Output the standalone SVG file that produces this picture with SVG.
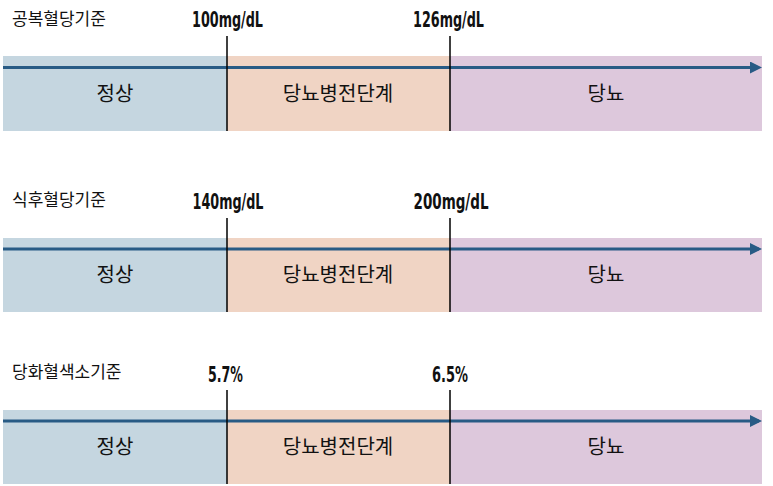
<svg xmlns="http://www.w3.org/2000/svg" width="773" height="486" viewBox="0 0 773 486">
<style>
.title{font-family:"Noto Sans CJK KR","Noto Sans",sans-serif;font-size:17px;fill:#111}
.band{font-family:"Noto Sans CJK KR","Noto Sans",sans-serif;font-size:20px;fill:#111;text-anchor:middle;dominant-baseline:central}
.val{font-family:"Liberation Sans Narrow","DejaVu Sans Condensed","Liberation Sans",sans-serif;font-weight:bold;font-size:21px;fill:#111;text-anchor:middle}
.normal{fill:#c5d6e0}
.pre{fill:#f0d4c4}
.dm{fill:#ddc8dc}
.axis{stroke:#285b85;stroke-width:3;fill:none;marker-end:url(#ah)}
.tick{stroke:#000;stroke-width:1.5}
</style>
<defs>
<marker id="ah" markerWidth="4" markerHeight="4" refX="3" refY="2" orient="auto" markerUnits="strokeWidth">
<path d="M0,0 L4,2 L0,4 Z" fill="#285b85"/>
</marker>
</defs>
<g id="row1">
<g id="row1-title"><text class="title" x="12" y="25">공복혈당기준</text></g>
<g id="row1-normal"><rect class="normal" x="3" y="56" width="224" height="75"/><text class="band" x="115" y="92">정상</text></g>
<g id="row1-pre"><rect class="pre" x="227" y="56" width="223" height="75"/><text class="band" x="338" y="92">당뇨병전단계</text></g>
<g id="row1-dm"><rect class="dm" x="450" y="56" width="312" height="75"/><text class="band" x="606" y="92">당뇨</text></g>
<g id="row1-t1"><text class="val" x="227.5" y="27" textLength="71" lengthAdjust="spacingAndGlyphs">100mg/dL</text></g>
<g id="row1-t2"><text class="val" x="448.5" y="27" textLength="71" lengthAdjust="spacingAndGlyphs">126mg/dL</text></g>
</g>
<g id="row2">
<g id="row2-title"><text class="title" x="12" y="206">식후혈당기준</text></g>
<g id="row2-normal"><rect class="normal" x="3" y="238" width="224" height="74"/><text class="band" x="115" y="273">정상</text></g>
<g id="row2-pre"><rect class="pre" x="227" y="238" width="223" height="74"/><text class="band" x="338" y="273">당뇨병전단계</text></g>
<g id="row2-dm"><rect class="dm" x="450" y="238" width="312" height="74"/><text class="band" x="606" y="273">당뇨</text></g>
<g id="row2-t1"><text class="val" x="228" y="209" textLength="71" lengthAdjust="spacingAndGlyphs">140mg/dL</text></g>
<g id="row2-t2"><text class="val" x="451" y="209" textLength="75" lengthAdjust="spacingAndGlyphs">200mg/dL</text></g>
</g>
<g id="row3">
<g id="row3-title"><text class="title" x="12" y="378">당화혈색소기준</text></g>
<g id="row3-normal"><rect class="normal" x="3" y="410" width="224" height="74"/><text class="band" x="115" y="445">정상</text></g>
<g id="row3-pre"><rect class="pre" x="227" y="410" width="223" height="74"/><text class="band" x="338" y="445">당뇨병전단계</text></g>
<g id="row3-dm"><rect class="dm" x="450" y="410" width="312" height="74"/><text class="band" x="606" y="445">당뇨</text></g>
<g id="row3-t1"><text class="val" x="225.5" y="382" textLength="35" lengthAdjust="spacingAndGlyphs">5.7%</text></g>
<g id="row3-t2"><text class="val" x="450" y="382" textLength="36" lengthAdjust="spacingAndGlyphs">6.5%</text></g>
</g>
<g id="connectors">
<line class="axis" x1="3" y1="67.5" x2="759" y2="67.5"/>
<line class="axis" x1="3" y1="249" x2="759" y2="249"/>
<line class="axis" x1="3" y1="421" x2="759" y2="421"/>
<line class="tick" x1="227" y1="36" x2="227" y2="131"/>
<line class="tick" x1="450" y1="36" x2="450" y2="131"/>
<line class="tick" x1="227" y1="218" x2="227" y2="312"/>
<line class="tick" x1="450" y1="218" x2="450" y2="312"/>
<line class="tick" x1="227" y1="390" x2="227" y2="484"/>
<line class="tick" x1="450" y1="390" x2="450" y2="484"/>
</g>
</svg>
